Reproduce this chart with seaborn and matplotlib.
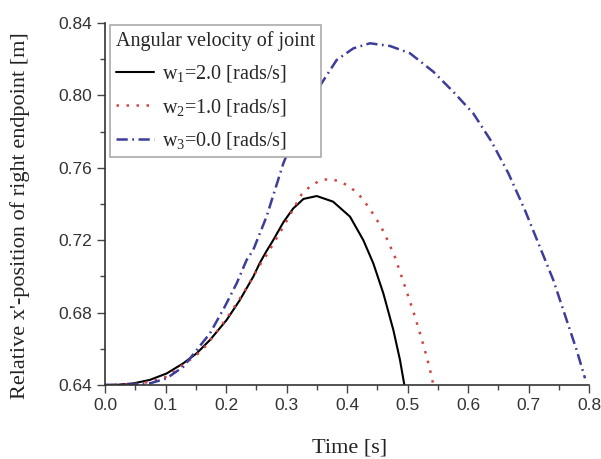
import matplotlib
matplotlib.use("Agg")
import matplotlib.pyplot as plt
import seaborn as sns
import pandas as pd
from matplotlib.ticker import MultipleLocator

sns.set_theme(style="white")
plt.rcParams["font.family"] = ["Liberation Serif", "DejaVu Serif"]

# ---- data ----
t_w1 = [0.0, 0.02, 0.047, 0.074, 0.102, 0.1295, 0.1515, 0.1736, 0.201, 0.223,
        0.245, 0.256, 0.267, 0.278, 0.295, 0.311, 0.328, 0.350, 0.377, 0.405,
        0.427, 0.4435, 0.460, 0.4766, 0.4876, 0.4948]
x_w1 = [0.64, 0.6401, 0.6409, 0.6428, 0.6464, 0.652, 0.6575, 0.6649, 0.6759,
        0.687, 0.6998, 0.7075, 0.714, 0.720, 0.730, 0.7375, 0.7428, 0.7444,
        0.7413, 0.733, 0.720, 0.7072, 0.6907, 0.6704, 0.6538, 0.64]

t_w2 = [0.0, 0.02, 0.05, 0.075, 0.102, 0.1515, 0.168, 0.193, 0.2066, 0.2177,
        0.2287, 0.248, 0.256, 0.267, 0.295, 0.325, 0.3416, 0.358, 0.3736,
        0.3895, 0.406, 0.4215, 0.4353, 0.446, 0.4557, 0.4645, 0.479, 0.4904,
        0.5014, 0.5124, 0.5223, 0.5317, 0.540, 0.542]
x_w2 = [0.64, 0.6401, 0.6406, 0.6418, 0.6446, 0.6566, 0.6621, 0.6731, 0.6796,
        0.6851, 0.6907, 0.7017, 0.7063, 0.7118, 0.7275, 0.7454, 0.7505, 0.7533,
        0.7538, 0.7523, 0.7492, 0.7444, 0.7385, 0.733, 0.7278, 0.7219, 0.7109,
        0.6998, 0.6888, 0.6777, 0.6667, 0.6556, 0.6446, 0.641]

t_w3 = [0.0, 0.02, 0.05, 0.0744, 0.102, 0.1295, 0.1515, 0.1736, 0.198, 0.2177,
        0.234, 0.245, 0.267, 0.2948, 0.325, 0.358, 0.383, 0.4105, 0.438, 0.471,
        0.504, 0.5427, 0.5757, 0.6088, 0.639, 0.6667, 0.694, 0.7163, 0.741,
        0.763, 0.7796, 0.7934]
x_w3 = [0.64, 0.6401, 0.6404, 0.6409, 0.6437, 0.6501, 0.6593, 0.6686, 0.6833,
        0.6962, 0.709, 0.7146, 0.733, 0.7625, 0.787, 0.8067, 0.8196, 0.826,
        0.8288, 0.8273, 0.8233, 0.8131, 0.802, 0.790, 0.7744, 0.757, 0.7367,
        0.7183, 0.698, 0.6759, 0.6593, 0.6437]

labels = [r"w$_\mathregular{1}$=2.0 [rads/s]",
          r"w$_\mathregular{2}$=1.0 [rads/s]",
          r"w$_\mathregular{3}$=0.0 [rads/s]"]
legend_title = "Angular velocity of joint"
x_label = "Time [s]"
y_label = "Relative x'-position of right endpoint [m]"
x_ticks = [0.0, 0.1, 0.2, 0.3, 0.4, 0.5, 0.6, 0.7, 0.8]
y_ticks = [0.64, 0.68, 0.72, 0.76, 0.80, 0.84]

fig = plt.figure(figsize=(6.01, 4.59), dpi=100)
W, H = 601, 459
ax = fig.add_axes([105 / W, 1 - 385 / H, (589 - 105) / W, (385 - 23) / H])
aw, ah = 589 - 105, 385 - 23

styles = [dict(color="black", linestyle="-", linewidth=1.5),
          dict(color="#d04444", linestyle=(0, (1, 3)), linewidth=1.8),
          dict(color="#3d3d9a", linestyle=(0, (4.5, 1.8, 0.7, 1.8)), linewidth=1.8)]
for t, x, lab, st in zip([t_w1, t_w2, t_w3], [x_w1, x_w2, x_w3], labels, styles):
    df = pd.DataFrame({"t": t, "x": x})
    sns.lineplot(data=df, x="t", y="x", ax=ax, label=lab, sort=False, **st)

ax.set_xlim(0.0, 0.8)
ax.set_ylim(0.64, 0.84)
ax.set_xticks(x_ticks)
ax.set_xticklabels([f"{v:.1f}" for v in x_ticks])
ax.set_yticks(y_ticks)
ax.set_yticklabels([f"{v:.2f}" for v in y_ticks])
ax.xaxis.set_minor_locator(MultipleLocator(0.05))
ax.yaxis.set_minor_locator(MultipleLocator(0.02))

for lab in ax.get_xticklabels() + ax.get_yticklabels():
    lab.set_family(["Liberation Sans", "DejaVu Sans"])
    lab.set_fontsize(12.5)
    lab.set_color("#333333")

ax.tick_params(which="major", direction="out", length=5.5, width=1.0,
               color="#444444", left=True, bottom=True, pad=3.5)
ax.tick_params(which="minor", direction="out", length=3.5, width=1.0,
               color="#444444", left=True, bottom=True)

for s in ["top", "right"]:
    ax.spines[s].set_visible(False)
for s in ["left", "bottom"]:
    ax.spines[s].set_color("#333333")
    ax.spines[s].set_linewidth(1.2)

ax.set_xlabel(x_label, fontsize=16, color="#222222")
ax.set_ylabel(y_label, fontsize=16, color="#222222")
ax.xaxis.set_label_coords((350 - 105) / aw, (385 - 439) / ah)
ax.yaxis.set_label_coords((30 - 105) / aw, (385 - 216) / ah)

leg = ax.legend(title=legend_title, loc="upper left",
                bbox_to_anchor=(5 / aw, 1 - 2 / ah), borderaxespad=0,
                fontsize=14.5, title_fontsize=14.5, frameon=True,
                fancybox=False, edgecolor="#aaaaaa", framealpha=1,
                handlelength=1.9, handletextpad=0.4, labelspacing=0.62,
                borderpad=0.3)
leg._legend_box.align = "left"
leg.get_frame().set_linewidth(1.2)
leg.set_zorder(5)

fig.savefig("out.png", dpi=100)
